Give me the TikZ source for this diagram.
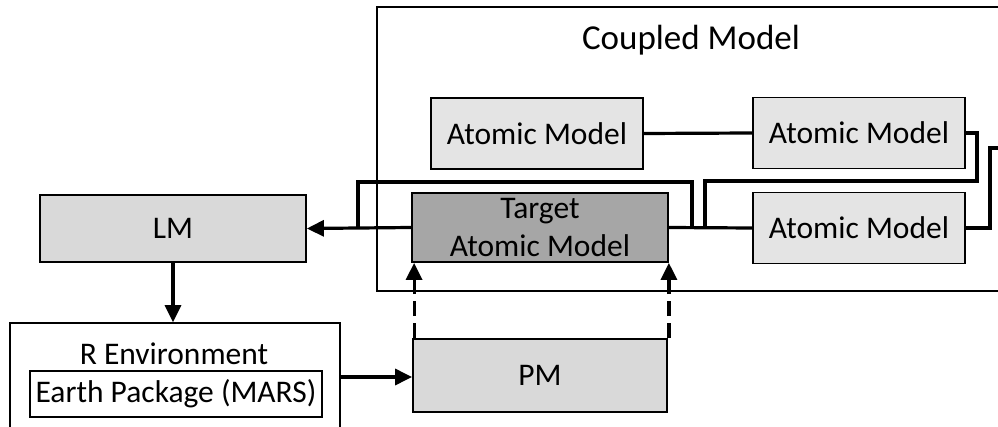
\documentclass[tikz,border=0pt]{standalone}
\usepackage{fontspec}
\setmainfont{Carlito}
\usetikzlibrary{arrows.meta}
\definecolor{amfill}{HTML}{E4E4E4}
\definecolor{lmfill}{HTML}{D9D9D9}
\definecolor{tgfill}{HTML}{A6A6A6}
\begin{document}
\begin{tikzpicture}[x=1pt,y=-1pt,
  txt/.style={font=\fontsize{31.5}{38}\selectfont},
  box/.style={draw, line width=1.8pt, inner sep=0pt, txt, align=center},
  am/.style={box, fill=amfill, minimum width=212pt, minimum height=71pt},
  frame/.style={draw, line width=1.5pt, inner sep=0pt},
  conn/.style={line width=3.2pt, line join=miter},
  arr/.style={conn, -{Triangle[length=17pt,width=16pt]}},
  dasharr/.style={arr, dash pattern=on 15pt off 7pt}]
\useasboundingbox (0,0) rectangle (998,427);
% containers
\node[frame, minimum width=628pt, minimum height=284pt] (cm) at (691,149) {};
\node[anchor=base, font=\fontsize{35}{42}\selectfont] (cmtitle) at (691,50) {Coupled Model};
\node[frame, minimum width=330pt, minimum height=117pt] (renv) at (175,381.5) {};
\node[txt, anchor=base] (rtitle) at (174,364) {R Environment};
\node[frame, txt, minimum width=292pt, minimum height=46pt] (earth) at (176,394) {Earth Package (MARS)};
% boxes
\node[am] (am1) at (537,133.5) {Atomic Model};
\node[am] (am2) at (859,133) {Atomic Model};
\node[am] (am3) at (859,228) {Atomic Model};
\node[box, fill=tgfill, minimum width=256pt, minimum height=69pt] (tg) at (540,227.5) {Target\\Atomic Model};
\node[box, fill=lmfill, minimum width=266pt, minimum height=67pt] (lm) at (173,228.5) {LM};
\node[box, fill=lmfill, minimum width=254pt, minimum height=73pt] (pm) at (540,375.5) {PM};
% junctions
\coordinate (j1) at (705,228);
\coordinate (j2) at (692,228);
\coordinate (j3) at (358,228);
\coordinate (out) at (1010,148);
% connectors
\draw[conn] (am1.east) -- (am2.west);
\draw[conn] (am2.east) -| (977,181) -| (j1);
\draw[conn] (tg.east) -- (am3.west);
\draw[conn] (j2) -- (692,182) -- (358,182) -- (j3);
\draw[arr] (tg.west) -- (lm.east);
\draw[conn] (am3.east) -| (990,148) -- (out);
\draw[arr] (lm.south) -- (lm.south |- renv.north);
\draw[arr] (renv.east |- 0,377) -- (pm.west |- 0,377);
\draw[dasharr] ([xshift=3pt]tg.south west |- pm.north) -- ([xshift=3pt]tg.south west);
\draw[dasharr] (tg.south east |- pm.north) -- (tg.south east);
\end{tikzpicture}
\end{document}
